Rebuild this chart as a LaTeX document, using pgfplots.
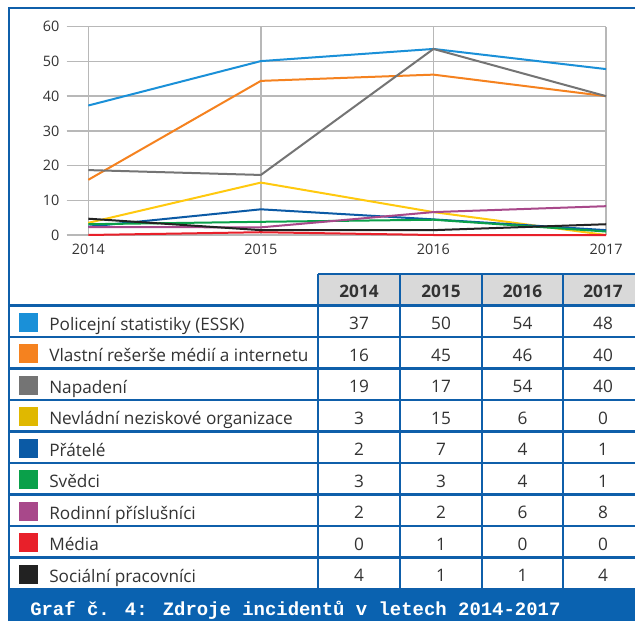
\documentclass[border=0pt]{standalone}
\usepackage{fontspec}
\setmainfont{Open Sans}
\newfontfamily\capfont{Liberation Mono}
\usepackage{pgfplots}
\pgfplotsset{compat=1.18}

\definecolor{cPol}{HTML}{1A90D8}
\definecolor{cVla}{HTML}{F5821F}
\definecolor{cNap}{HTML}{747474}
\definecolor{cNev}{HTML}{FFC90E}
\definecolor{cPra}{HTML}{0B5AA5}
\definecolor{cSve}{HTML}{0AA04A}
\definecolor{cRod}{HTML}{A8488A}
\definecolor{cMed}{HTML}{E8202A}
\definecolor{cSoc}{HTML}{222222}
\definecolor{sNev}{HTML}{E0B800}
\definecolor{frame}{HTML}{0F5FAA}
\definecolor{bar}{HTML}{0A62B0}
\definecolor{hdr}{HTML}{D9D9D9}
\definecolor{txt}{HTML}{333333}

\begin{document}
\begin{tikzpicture}
% frame, table and caption, in pixel units of the reference
\begin{scope}[x=0.75pt, y=-0.75pt, shift={(-50.025pt,176.25pt)}]
  \fill[white] (9,8) rectangle (660,621);
  \fill[hdr] (318,274) rectangle (660,305.5);
  \fill[bar] (9,589) rectangle (660,621);
  \draw[frame, line width=1.6pt] (9,621) -- (9,8) -- (660,8);
  \draw[frame, line width=1.6pt] (318,274) -- (660,274);
  \foreach \y in {305.5,337,368.5,400,431.5,463,494.5,526,557.5,589}
    \draw[frame, line width=1.6pt] (9,\y) -- (660,\y);
  \foreach \x in {318,400,482,563,643}
    \draw[frame, line width=1.6pt] (\x,274) -- (\x,589);
  \foreach \x/\yr in {359/2014,441/2015,522.5/2016,603/2017}
    \node[anchor=base, txt, font=\fontsize{12.9}{14}\selectfont\bfseries, inner sep=0pt] at (\x,297) {\yr};
  \foreach \i/\sc/\lab/\a/\b/\c/\d in {
      0/cPol/{Policejní statistiky (ESSK)}/37/50/54/48,
      1/cVla/{Vlastní rešerše médií a internetu}/16/45/46/40,
      2/cNap/{Napadení}/19/17/54/40,
      3/sNev/{Nevládní neziskové organizace}/3/15/6/0,
      4/cPra/{Přátelé}/2/7/4/1,
      5/cSve/{Svědci}/3/3/4/1,
      6/cRod/{Rodinní příslušníci}/2/2/6/8,
      7/cMed/{Média}/0/1/0/0,
      8/cSoc/{Sociální pracovníci}/4/1/1/4} {
    \pgfmathsetmacro{\yt}{305.5+31.5*\i}
    \fill[\sc] (19,\yt+7) rectangle (38,\yt+26);
    \begin{scope}[font=\fontsize{12.9}{14}\selectfont, txt, every node/.style={inner sep=0pt}]
      \node[anchor=base west] at (49,\yt+24.5) {\lab};
      \node[anchor=base] at (359,\yt+24) {\a};
      \node[anchor=base] at (441,\yt+24) {\b};
      \node[anchor=base] at (522.5,\yt+24) {\c};
      \node[anchor=base] at (603,\yt+24) {\d};
    \end{scope}
  }
  \node[anchor=base west, inner sep=0pt, text=white, font=\capfont\bfseries\fontsize{14.2}{16}\selectfont] at (30,615) {Graf č. 4: Zdroje incidentů v letech 2014-2017};
\end{scope}

\begin{axis}[
    at={(0,0)}, anchor=south west,
    scale only axis,
    width=404.5pt, height=156.2pt,
    xmin=2013.875, xmax=2017,
    ymin=0, ymax=60,
    xtick={2014,2015,2016,2017},
    ytick={0,10,...,60},
    grid=major,
    grid style={color=black!28, line width=1.1pt},
    axis line style={draw=none},
    tick style={draw=none},
    /pgf/number format/assume math mode=true,
    /pgf/number format/1000 sep={},
    ticklabel style={font=\fontsize{10.8}{12}\selectfont, text=txt},
    yticklabel style={xshift=-2pt},
    xticklabel style={yshift=-3pt},
    every axis plot/.append style={line width=1.5pt, mark=none},
    clip=false,
]
\addplot[cPol] coordinates {(2014,37.3) (2015,50.1) (2016,53.6) (2017,47.8)};
\addplot[cVla] coordinates {(2014,15.9) (2015,44.4) (2016,46.2) (2017,40)};
\addplot[cNap] coordinates {(2014,18.7) (2015,17.3) (2016,53.6) (2017,40)};
\addplot[cNev] coordinates {(2014,3.5) (2015,15.1) (2016,6.6) (2017,0)};
\addplot[cPra] coordinates {(2014,2.4) (2015,7.4) (2016,4.5) (2017,1.4)};
\addplot[cSve] coordinates {(2014,3.1) (2015,3.8) (2016,4.4) (2017,1.0)};
\addplot[cRod] coordinates {(2014,2.3) (2015,2.2) (2016,6.6) (2017,8.3)};
\addplot[cMed] coordinates {(2014,0) (2015,0.8) (2016,0) (2017,0)};
\addplot[cSoc] coordinates {(2014,4.7) (2015,1.4) (2016,1.4) (2017,3.1)};
\end{axis}
\pgfresetboundingbox
\useasboundingbox (-50.025pt,-289.5pt) rectangle (426.225pt,176.25pt);
\end{tikzpicture}
\end{document}
